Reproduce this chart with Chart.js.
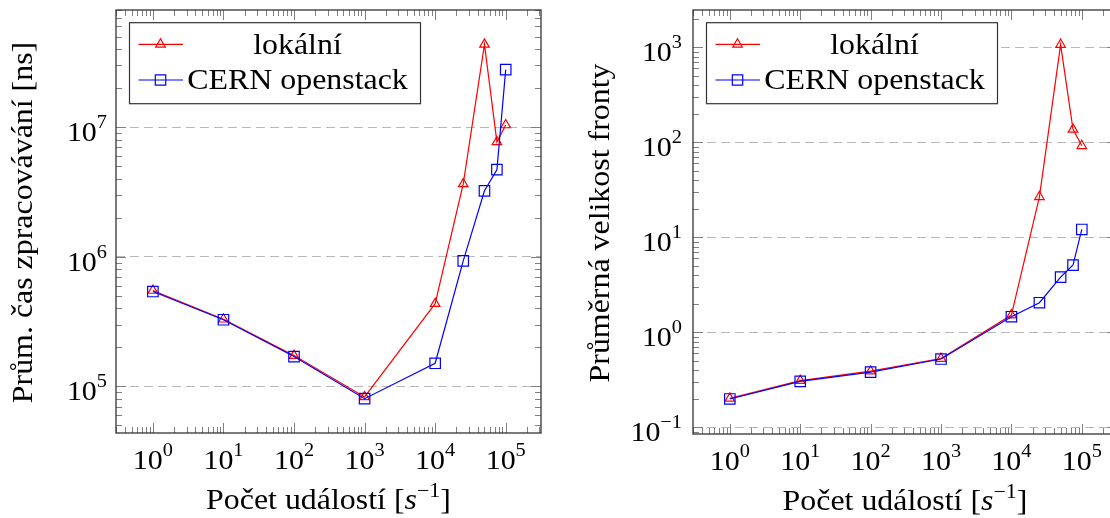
<!DOCTYPE html>
<html>
<head>
<meta charset="utf-8">
<script src="https://cdn.jsdelivr.net/npm/chart.js@4.4.1/dist/chart.umd.min.js"></script>
<style>
  html, body { margin: 0; padding: 0; background: #fff; overflow: hidden; width: 1110px; height: 518px; }
  canvas { position: absolute; top: 0; }
  #left { left: 0; }
  #right { left: 555px; }
</style>
</head>
<body>
<canvas id="left" width="555" height="518"></canvas>
<canvas id="right" width="580" height="518"></canvas>
<script>
// event rates [1/s]
const events = [1, 10, 100, 1000, 10000, 25000, 50000, 75000, 100000];

// average processing time [ns]
const timeLocal = [5.5e5, 3.3e5, 1.73e5, 8.3e4, 4.35e5, 3.65e6, 4.35e7, 7.7e6, 1.04e7];
const timeCern = [5.4e5, 3.27e5, 1.7e5, 8.05e4, 1.51e5, 9.3e5, 3.23e6, 4.7e6, 2.78e7];

// average queue size
const queueLocal = [0.202, 0.31, 0.39, 0.53, 1.52, 26.7, 1070, 137, 92];
const queueCern = [0.199, 0.305, 0.382, 0.524, 1.46, 2.05, 3.82, 5.11, 12.1];

// tick labels (powers of ten)
const xDecades = [0, 1, 2, 3, 4, 5];
const timeDecades = [5, 6, 7];
const queueDecades = [-1, 0, 1, 2, 3];

const seriesNames = ['lokální', 'CERN openstack'];

const FONT = '"Liberation Serif", "Times New Roman", serif';
const RED = '#ff0000';
const BLUE = '#0000ff';

function setFont(ctx, p) {
  ctx.font = (p.it ? 'italic ' : '') + p.size + 'px ' + FONT;
}

// draws text made of pieces (for superscripts / italics), stretched a bit
// horizontally so the Times-like font gets closer to the wider TeX look
function drawParts(ctx, parts, x, y, align, sx) {
  sx = sx || 1.1;
  let w = 0;
  parts.forEach(p => { setFont(ctx, p); p.w = ctx.measureText(p.t).width; w += p.w; });
  const x0 = align === 'center' ? x - w * sx / 2 : align === 'right' ? x - w * sx : x;
  ctx.save();
  ctx.translate(x0, y);
  ctx.scale(sx, 1);
  ctx.textAlign = 'left';
  ctx.textBaseline = 'alphabetic';
  let cx = 0;
  parts.forEach(p => {
    setFont(ctx, p);
    ctx.fillText(p.t, cx, -(p.rise || 0));
    cx += p.w;
  });
  ctx.restore();
}

function powParts(k) {
  return [
    { t: '10', size: 28 },
    { t: k < 0 ? '\u2212' + (-k) : String(k), size: 19, rise: 13 }
  ];
}

function logTicks(min, max) {
  const out = [];
  for (let k = Math.floor(Math.log10(min)); k <= Math.ceil(Math.log10(max)); k++) {
    for (let m = 1; m <= 9; m++) {
      const v = m * Math.pow(10, k);
      if (v >= min && v <= max) out.push([v, m === 1]);
    }
  }
  return out;
}

function drawMarker(ctx, style, x, y, color) {
  ctx.strokeStyle = color;
  ctx.lineWidth = 1.2;
  ctx.beginPath();
  if (style === 'triangle') {
    const r = 5.5;
    ctx.moveTo(x, y - r);
    ctx.lineTo(x + r * Math.sin(Math.PI / 3), y + r / 2);
    ctx.lineTo(x - r * Math.sin(Math.PI / 3), y + r / 2);
    ctx.closePath();
  } else {
    const s = 5.2;
    ctx.rect(x - s, y - s, 2 * s, 2 * s);
  }
  ctx.stroke();
}

const axesPlugin = {
  id: 'axesDeco',
  afterDatasetsDraw(chart, args, o) {
    const { ctx, chartArea: a, scales: { x, y } } = chart;
    ctx.save();

    // inner ticks on all four sides
    ctx.strokeStyle = '#808080';
    ctx.lineWidth = 1;
    ctx.beginPath();
    logTicks(x.min, x.max).forEach(([v, major]) => {
      const px = Math.round(x.getPixelForValue(v)) + 0.5;
      const len = major ? 10 : 6;
      ctx.moveTo(px, a.bottom); ctx.lineTo(px, a.bottom - len);
      ctx.moveTo(px, a.top); ctx.lineTo(px, a.top + len);
    });
    logTicks(y.min, y.max).forEach(([v, major]) => {
      const py = Math.round(y.getPixelForValue(v)) + 0.5;
      const len = major ? 10 : 6;
      ctx.moveTo(a.left, py); ctx.lineTo(a.left + len, py);
      ctx.moveTo(a.right, py); ctx.lineTo(a.right - len, py);
    });
    ctx.stroke();

    // frame
    ctx.strokeStyle = '#333';
    ctx.lineWidth = 1.3;
    ctx.strokeRect(a.left, a.top, a.width, a.height);

    // tick labels
    ctx.fillStyle = '#000';
    xDecades.forEach(k => drawParts(ctx, powParts(k), x.getPixelForValue(Math.pow(10, k)), a.bottom + 36, 'center', 1.07));
    o.yDecades.forEach(k => drawParts(ctx, powParts(k), a.left - o.yGap, y.getPixelForValue(Math.pow(10, k)) + 14, 'right', 1.07));

    // axis titles
    drawParts(ctx, [
      { t: 'Počet událostí [', size: 29 },
      { t: 's', size: 29, it: true },
      { t: '\u22121', size: 20, rise: 12 },
      { t: ']', size: 29 }
    ], (a.left + a.right) / 2, a.bottom + 76, 'center');

    ctx.save();
    ctx.translate(a.left - 84, (a.top + a.bottom) / 2 + 1);
    ctx.rotate(-Math.PI / 2);
    drawParts(ctx, [{ t: o.yTitle, size: 29 }], 0, 0, 'center');
    ctx.restore();

    // legend
    const bx = a.left + 13.5, by = a.top + 12.7, bw = 291, bh = 81;
    ctx.fillStyle = '#fff';
    ctx.fillRect(bx, by, bw, bh);
    ctx.strokeStyle = '#333';
    ctx.lineWidth = 1.2;
    ctx.strokeRect(bx, by, bw, bh);
    const rows = [
      { name: seriesNames[0], color: RED, style: 'triangle', y: by + 21.6 },
      { name: seriesNames[1], color: BLUE, style: 'rect', y: by + 57.3 }
    ];
    rows.forEach(r => {
      ctx.strokeStyle = r.color;
      ctx.lineWidth = 1.2;
      ctx.beginPath();
      ctx.moveTo(bx + 9, r.y); ctx.lineTo(bx + 53.5, r.y);
      ctx.stroke();
      drawMarker(ctx, r.style, bx + 31, r.y, r.color);
      ctx.fillStyle = '#000';
      drawParts(ctx, [{ t: r.name, size: 29 }], bx + 168, r.y + 9.4, 'center');
    });

    ctx.restore();
  }
};

function makeChart(id, local, cern, yMin, yMax, yDecades, yTitle, padding, yGap) {
  const toPts = vals => events.map((e, i) => ({ x: e, y: vals[i] }));
  return new Chart(document.getElementById(id), {
    type: 'line',
    data: {
      datasets: [{
        label: seriesNames[0],
        data: toPts(local),
        borderColor: RED,
        borderWidth: 1.2,
        pointStyle: 'triangle',
        pointRadius: 5.5,
        pointBorderWidth: 1.2,
        pointBorderColor: RED,
        pointBackgroundColor: 'transparent',
        tension: 0,
        fill: false,
        order: 1
      }, {
        label: seriesNames[1],
        data: toPts(cern),
        borderColor: BLUE,
        borderWidth: 1.2,
        pointStyle: 'rect',
        pointRadius: 7.4,
        pointBorderWidth: 1.2,
        pointBorderColor: BLUE,
        pointBackgroundColor: 'transparent',
        tension: 0,
        fill: false,
        order: 0
      }]
    },
    options: {
      responsive: false,
      animation: false,
      devicePixelRatio: 1,
      events: [],
      layout: { padding: padding },
      plugins: {
        legend: { display: false },
        tooltip: { enabled: false },
        axesDeco: { yDecades: yDecades, yTitle: yTitle, yGap: yGap }
      },
      scales: {
        x: {
          type: 'logarithmic',
          min: Math.pow(10, -0.5),
          max: Math.pow(10, 5.5),
          display: false
        },
        y: {
          type: 'logarithmic',
          min: yMin,
          max: yMax,
          afterBuildTicks: s => { s.ticks = yDecades.map(k => ({ value: Math.pow(10, k) })); },
          ticks: { display: false },
          grid: { color: '#b8b8b8', lineWidth: 1, drawTicks: false },
          border: { display: false, dash: [9, 5] }
        }
      }
    },
    plugins: [axesPlugin]
  });
}

makeChart('left', timeLocal, timeCern, Math.pow(10, 4.641), Math.pow(10, 7.904), timeDecades,
  'Prům. čas zpracovávání [ns]', { left: 116, right: 14, top: 10, bottom: 85 }, 9);

makeChart('right', queueLocal, queueCern, Math.pow(10, -1.07), Math.pow(10, 3.393), queueDecades,
  'Průměrná velikost fronty', { left: 138, right: 18, top: 10, bottom: 84 }, 11);
</script>
</body>
</html>
